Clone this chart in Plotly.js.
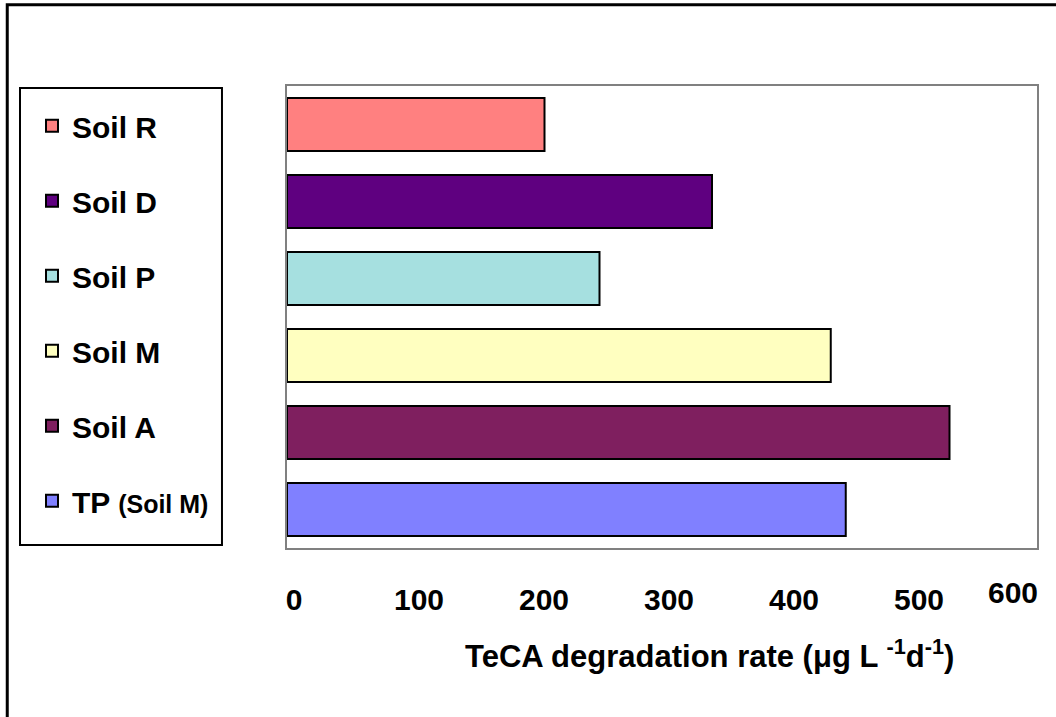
<!DOCTYPE html>
<html>
<head>
<meta charset="utf-8">
<script src="https://cdn.plot.ly/plotly-3.0.1.min.js"></script>
<style>html,body{margin:0;padding:0;background:#fff;}#chart{width:1056px;height:717px;}</style>
</head>
<body>
<div id="chart"></div>
<script>
// Data
const categories = ["Soil R", "Soil D", "Soil P", "Soil M", "Soil A", "TP (Soil M)"];
const legendNames = ["Soil R", "Soil D", "Soil P", "Soil M", "Soil A", "TP <span style='font-size:25px'>(Soil M)</span>"];
const rates = [206, 340, 250, 435, 530, 447];
const colors = ["#ff8080", "#5f0080", "#a6e0e0", "#ffffc0", "#7f1f5f", "#8080ff"];
const tickValues = [0, 100, 200, 300, 400, 500];
const tickLabels = ["0", "100", "200", "300", "400", "500"];
const lastTick = 600;
const xTitle = "TeCA degradation rate (μg L <sup>-1</sup>d<sup>-1</sup>)";

const FONT = "Liberation Sans, Arial, sans-serif";

const traces = categories.map((c, i) => ({
  type: "bar",
  orientation: "h",
  y: [c],
  x: [rates[i]],
  name: legendNames[i],
  legendgroup: "g" + i,
  marker: { color: colors[i], line: { color: "#000", width: 2 } },
  hoverinfo: "x+y"
}));

const layout = {
  width: 1056,
  height: 717,
  margin: { l: 287, r: 19, t: 86, b: 169, pad: 0 },
  paper_bgcolor: "#fff",
  plot_bgcolor: "#fff",
  font: { family: FONT, color: "#000" },
  barmode: "overlay",
  bargap: 0.31,
  showlegend: true,
  legend: {
    x: -0.34, y: 0.9700, xanchor: "left", yanchor: "top",
    bgcolor: "rgba(0,0,0,0)", borderwidth: 0,
    font: { size: 30, family: FONT, color: "#000", weight: "bold" },
    traceorder: "grouped",
    tracegroupgap: 33,
    itemwidth: 30
  },
  xaxis: {
    range: [0, 600],
    tickmode: "array",
    tickvals: tickValues,
    ticktext: tickLabels,
    showgrid: false,
    zeroline: false,
    showline: true, mirror: true, linecolor: "#808080", linewidth: 2,
    ticks: "",
    ticklabelstandoff: 24,
    ticklabelshift: 7,
    tickfont: { size: 30, family: FONT, color: "#000", weight: "bold" },
    fixedrange: true
  },
  yaxis: {
    type: "category",
    categoryorder: "array",
    categoryarray: categories,
    autorange: "reversed",
    showticklabels: false,
    showgrid: false,
    zeroline: false,
    showline: true, mirror: true, linecolor: "#808080", linewidth: 2,
    ticks: "",
    fixedrange: true
  },
  annotations: [
    {
      x: lastTick, xref: "x", y: 0, yref: "paper",
      text: String(lastTick), showarrow: false,
      xanchor: "center", yanchor: "top",
      xshift: -24, yshift: -26,
      font: { size: 30, family: FONT, color: "#000", weight: "bold" }
    },
    {
      x: 0.5627, xref: "paper", y: -0.230, yref: "paper",
      text: xTitle, showarrow: false,
      xanchor: "center", yanchor: "middle",
      font: { size: 31, family: FONT, color: "#000", weight: "bold" }
    }
  ],
  shapes: [
    {
      type: "rect", xref: "paper", yref: "paper",
      x0: -0.373, x1: 1.2, y0: -1, y1: 1.176,
      line: { color: "#000", width: 3 }, fillcolor: "rgba(0,0,0,0)",
      layer: "below"
    },
    {
      type: "rect", xref: "paper", yref: "paper",
      x0: -0.356, x1: -0.0867, y0: 0.0065, y1: 0.9957,
      line: { color: "#000", width: 2 }, fillcolor: "#fff",
      layer: "below"
    }
  ]
};

Plotly.newPlot("chart", traces, layout, { displayModeBar: false, staticPlot: true });
</script>
</body>
</html>
